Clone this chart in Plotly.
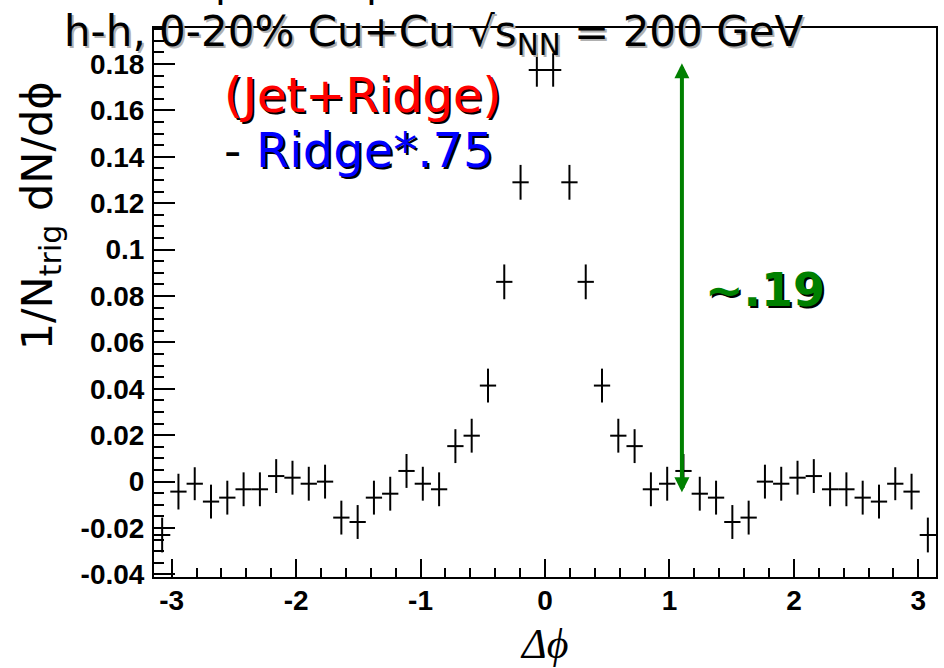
import numpy as np
import plotly.graph_objects as go

# ---- histogram: h-h correlation, (Jet+Ridge) - Ridge*0.75, 48 bins in [-pi, pi]
n_bins = 48
bin_edges = np.linspace(-np.pi, np.pi, n_bins + 1)
dphi = 0.5 * (bin_edges[:-1] + bin_edges[1:])
half_width = 0.5 * (bin_edges[1] - bin_edges[0])

yield_per_trig = [
    -0.0230, -0.0043, -0.0009, -0.0086, -0.0069, -0.0033, -0.0033, 0.0024,
    0.0017, -0.0009, 0.0000, -0.0155, -0.0174, -0.0069, -0.0052, 0.0046,
    -0.0009, -0.0033, 0.0153, 0.0198, 0.0414, 0.0861, 0.1290, 0.1774,
    0.1774, 0.1290, 0.0861, 0.0414, 0.0198, 0.0153, -0.0033, -0.0009,
    0.0046, -0.0052, -0.0069, -0.0174, -0.0155, 0.0000, -0.0009, 0.0017,
    0.0024, -0.0033, -0.0033, -0.0069, -0.0086, -0.0009, -0.0043, -0.0230,
]
yield_err = [
    0.0075, 0.0077, 0.0071, 0.0073, 0.0073, 0.0073, 0.0073, 0.0073,
    0.0073, 0.0073, 0.0073, 0.0073, 0.0073, 0.0073, 0.0073, 0.0073,
    0.0073, 0.0073, 0.0073, 0.0073, 0.0073, 0.0075, 0.0075, 0.0072,
    0.0072, 0.0075, 0.0075, 0.0073, 0.0073, 0.0073, 0.0073, 0.0073,
    0.0073, 0.0073, 0.0073, 0.0073, 0.0073, 0.0073, 0.0073, 0.0073,
    0.0073, 0.0073, 0.0073, 0.0073, 0.0073, 0.0071, 0.0077, 0.0075,
]

x_tick_vals = [-3, -2, -1, 0, 1, 2, 3]
x_tick_text = ["-3", "-2", "-1", "0", "1", "2", "3"]
y_tick_vals = [-0.04, -0.02, 0, 0.02, 0.04, 0.06, 0.08, 0.1, 0.12, 0.14, 0.16, 0.18]
y_tick_text = ["-0.04", "-0.02", "0", "0.02", "0.04", "0.06", "0.08", "0.1",
               "0.12", "0.14", "0.16", "0.18"]

# jet peak height marker
arrow_x = 1.1
arrow_low = -0.0046
arrow_high = 0.181
peak_label = "~.19"

# ---- figure geometry (pixels)
W, H = 944, 668
L, R, T, B = 154, 6, 28, 91
PW, PH = W - L - R, H - T - B


def px(x):
    return (x - L) / PW


def py(y):
    return (H - B - y) / PH


fig = go.Figure()
fig.add_trace(go.Scatter(
    x=dphi, y=yield_per_trig, mode="markers",
    marker=dict(size=1, color="black", opacity=0),
    error_x=dict(type="constant", value=half_width, width=0, thickness=2, color="black"),
    error_y=dict(type="data", array=yield_err, width=0, thickness=2, color="black"),
    showlegend=False, hoverinfo="skip",
))

annotations = []


def shadow_text(text, x, y, size, color, shadow, family="DejaVu Sans", weight="normal",
                xanchor="left", yanchor="middle", dx=2, dy=-2, angle=0):
    for col, sx, sy in ((shadow, dx, dy), (color, 0, 0)):
        if col is None:
            continue
        annotations.append(dict(
            text=text, x=px(x), y=py(y), xref="paper", yref="paper",
            xanchor=xanchor, yanchor=yanchor, showarrow=False,
            xshift=sx, yshift=sy, textangle=angle,
            font=dict(family=family, size=size, color=col, weight=weight),
        ))


# title line
shadow_text("h-h, 0-20% Cu+Cu \u221as<sub>NN</sub> = 200 GeV", 62, 34, 42, "black", "#b0b0b0")
# previous line, clipped by the page top
for xp in (213, 365):
    annotations.append(dict(text="p", x=px(xp), y=py(7), xref="paper", yref="paper",
                            xanchor="left", yanchor="bottom", showarrow=False,
                            font=dict(family="DejaVu Sans", size=40, color="black")))

shadow_text("(Jet+Ridge)", 222, 95, 48, "red", "black")
shadow_text("- ", 222, 150, 48, "black", None)
shadow_text("Ridge*.75", 254, 150, 48, "blue", "black")
shadow_text(peak_label, 704, 290, 46, "#008000", "black", weight="bold")

# y-axis title
annotations.append(dict(
    text="1/N<sub>trig</sub> dN/d\u03d5", x=px(40), y=py(216), xref="paper", yref="paper",
    xanchor="center", yanchor="middle", showarrow=False, textangle=-90,
    font=dict(family="DejaVu Sans", size=43, color="black"),
))
# x-axis title
annotations.append(dict(
    text="<i>\u0394\u03d5</i>", x=px(545), y=py(644), xref="paper", yref="paper",
    xanchor="center", yanchor="middle", showarrow=False,
    font=dict(family="Liberation Serif", size=42, color="black"),
))

# double-headed arrow for the peak height
annotations.append(dict(
    x=arrow_x, y=arrow_low, ax=arrow_x, ay=arrow_high,
    xref="x", yref="y", axref="x", ayref="y", text="",
    showarrow=True, arrowside="end+start", arrowhead=2, startarrowhead=2,
    arrowwidth=4, arrowsize=0.75, startarrowsize=0.75, arrowcolor="#008000",
    standoff=0, startstandoff=0,
))

tick_font = dict(family="Liberation Sans", size=28, color="black", weight="bold")

fig.update_layout(
    width=W, height=H,
    margin=dict(l=L, r=R, t=T, b=B, pad=0),
    paper_bgcolor="white", plot_bgcolor="white",
    annotations=annotations,
    xaxis=dict(
        range=[-np.pi, np.pi], tickmode="array", tickvals=x_tick_vals, ticktext=x_tick_text,
        ticks="inside", ticklen=18, tickwidth=1.5, tickcolor="black",
        minor=dict(dtick=0.2, tick0=0, ticks="inside", ticklen=9, tickwidth=1.5, tickcolor="black"),
        showline=True, linecolor="black", linewidth=2, mirror=True,
        showgrid=False, zeroline=False, tickfont=tick_font, ticklabelstandoff=-3,
    ),
    yaxis=dict(
        range=[-0.0411, 0.1955], tickmode="array", tickvals=y_tick_vals, ticktext=y_tick_text,
        ticks="inside", ticklen=21, tickwidth=1.5, tickcolor="black",
        minor=dict(dtick=0.005, tick0=0, ticks="inside", ticklen=10, tickwidth=1.5, tickcolor="black"),
        showline=True, linecolor="black", linewidth=2, mirror=True,
        showgrid=False, zeroline=False, tickfont=tick_font, ticklabelstandoff=2,
    ),
)

fig.write_html("out.html")
